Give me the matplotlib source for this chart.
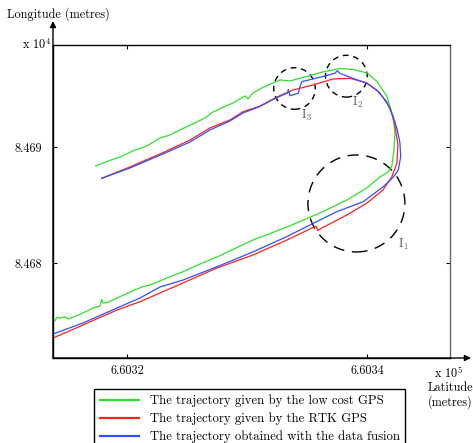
import matplotlib
matplotlib.use('Agg')
import matplotlib.pyplot as plt
from matplotlib.patches import Ellipse, FancyArrowPatch
import numpy as np

plt.rcParams['font.family'] = ['cmr10', 'DejaVu Serif']
plt.rcParams['mathtext.fontset'] = 'cm'
plt.rcParams['axes.unicode_minus'] = False
plt.rcParams['axes.formatter.use_mathtext'] = True

W, H = 473, 443
LAT0, LON0 = 660300.0, 84670.0   # local origin (metres)

# ---- data: metres east / north of (LAT0, LON0) ----
green_e = [17.39, 18.42, 19.42, 20.50, 21.67, 22.75, 23.58, 24.42, 25.83, 26.50, 27.17, 28.83,
           29.83, 30.08, 30.50, 31.25, 32.17, 32.75, 33.58, 35.00, 36.33, 37.75, 38.83, 40.00,
           40.83, 41.67, 42.17, 42.33, 42.25, 42.08, 41.75, 41.08, 40.00, 38.33, 36.08, 33.33,
           30.50, 27.50, 26.08, 24.67, 23.33, 21.92, 21.33, 20.25, 19.17, 18.33, 18.00, 17.89,
           17.75, 17.17, 16.33, 15.50, 15.08, 14.83, 14.42, 14.17, 14.00]
green_n = [18.36, 18.79, 19.14, 19.66, 20.09, 20.78, 21.03, 21.47, 22.16, 22.50, 23.02, 23.79,
           24.40, 24.14, 24.66, 25.09, 25.52, 25.78, 25.69, 26.08, 26.47, 26.77, 26.68, 26.38,
           25.65, 24.35, 22.63, 21.21, 19.74, 18.36, 17.84, 17.41, 16.47, 15.43, 14.31, 13.10,
           11.98, 10.52, 9.91, 9.25, 8.71, 8.10, 7.96, 7.50, 6.98, 6.58, 6.55, 6.87,
           6.29, 6.12, 5.69, 5.32, 5.17, 5.37, 5.23, 5.32, 5.03]

red_e = [17.89, 20.25, 23.00, 25.25, 26.92, 28.58, 29.67, 31.08, 32.50, 33.83, 35.50, 37.17,
         38.58, 40.00, 41.08, 41.92, 42.33, 42.58, 42.50, 42.08, 41.33, 40.00, 38.33, 36.25,
         35.88, 35.79, 35.50, 33.33, 30.50, 27.50, 24.67, 21.08, 19.17, 16.33, 13.75]
red_n = [17.30, 18.28, 19.51, 20.60, 21.64, 22.33, 23.04, 23.53, 24.31, 24.91, 25.34, 25.86,
         25.92, 25.52, 24.66, 23.36, 21.90, 20.17, 18.62, 17.44, 16.29, 15.17, 14.14, 13.02,
         12.80, 13.15, 13.06, 11.98, 10.69, 9.57, 8.28, 6.66, 5.95, 4.66, 3.49]

blue_e = [17.89, 20.25, 23.00, 25.25, 26.92, 28.58, 29.67, 31.08, 32.33, 33.38, 33.44, 33.58,
          34.28, 34.42, 34.56, 35.39, 36.50, 37.33, 37.53, 37.75, 38.83, 39.97, 40.81, 41.64,
          42.19, 42.53, 42.75, 42.81, 42.61, 42.21, 41.36, 39.69, 37.48, 35.53, 33.31, 30.53,
          27.50, 24.67, 22.75, 21.08, 19.17, 16.33, 13.75]
blue_n = [17.30, 18.19, 19.40, 20.43, 21.47, 22.24, 22.93, 23.49, 24.18, 24.66, 24.96, 24.42,
          24.63, 25.20, 25.63, 25.84, 26.12, 26.35, 26.58, 26.35, 25.92, 25.49, 24.91, 23.91,
          22.61, 21.47, 20.32, 19.16, 18.02, 17.41, 16.58, 15.28, 14.42, 13.42, 12.27, 10.97,
          9.68, 8.53, 7.93, 6.98, 6.12, 4.83, 3.84]

series_labels = ['The trajectory given by the low cost GPS',
                 'The trajectory given by the RTK GPS',
                 'The trajectory obtained with the data fusion']
series_colors = ['#2ee02e', '#ff2020', '#3050ff']

# zones of interest (dashed circles)
zone_names = ['I$_1$', 'I$_2$', 'I$_3$']
zone_e = [39.12, 38.28, 33.96]
zone_n = [15.13, 26.10, 25.04]
zone_rx = [4.04, 1.74, 1.73]
zone_ry = [4.18, 1.80, 1.79]
zone_label_e = [43.00, 39.25, 34.92]
zone_label_n = [11.64, 23.86, 22.76]
zone_dash = [(0, (8.0, 5.5)), (0, (4.2, 3.4)), (0, (4.2, 3.4))]

xticks = [660320, 660340]
xticklabels = ['6.6032', '6.6034']
yticks = [84680, 84690]
yticklabels = ['8.468', '8.469']

# ---- figure ----
fig = plt.figure(figsize=(W / 100, H / 100), dpi=100)
fx = lambda px: px / W
fy = lambda py: 1 - py / H

ax = fig.add_axes([fx(53), fy(358), fx(450) - fx(53), fy(45) - fy(358)])

handles = []
for e, n, lab, col in zip([green_e, red_e, blue_e], [green_n, red_n, blue_n],
                          series_labels, series_colors):
    h, = ax.plot(LAT0 + np.array(e), LON0 + np.array(n), color=col, lw=0.9, label=lab)
    handles.append(h)

for i in range(3):
    ax.add_patch(Ellipse((LAT0 + zone_e[i], LON0 + zone_n[i]), 2 * zone_rx[i], 2 * zone_ry[i],
                         fill=False, edgecolor='black', lw=1.0, linestyle=zone_dash[i]))
    ax.text(LAT0 + zone_label_e[i], LON0 + zone_label_n[i], zone_names[i], color='#555555',
            fontsize=9, ha='center', va='center')

ax.set_xlim(LAT0 + 13.83, LAT0 + 46.92)
ax.set_ylim(LON0 + 1.81, LON0 + 28.79)
ax.set_xticks(xticks)
ax.set_xticklabels(xticklabels)
ax.set_yticks(yticks)
ax.set_yticklabels(yticklabels)
ax.tick_params(direction='in', length=3, width=0.8, labelsize=8.8,
               top=True, right=True)
ax.tick_params(axis='y', pad=8)
ax.tick_params(axis='x', pad=5)
for s in ['left', 'bottom', 'top']:
    ax.spines[s].set_linewidth(1.0)
    ax.spines[s].set_color('black')
ax.spines['right'].set_linewidth(1.0)
ax.spines['right'].set_color('#666666')

# axis arrows
arrow = dict(arrowstyle='-|>', mutation_scale=9, lw=1.0, color='black', shrinkA=0, shrinkB=0)
fig.add_artist(FancyArrowPatch((fx(53), fy(358)), (fx(53), fy(21)),
               transform=fig.transFigure, **arrow))
fig.add_artist(FancyArrowPatch((fx(53), fy(358)), (fx(471), fy(358)),
               transform=fig.transFigure, **arrow))

# texts
fig.text(fx(7), fy(14), 'Longitude (metres)', fontsize=8.8, ha='left', va='center')
fig.text(fx(51), fy(45), r'x 10$^{4}$', fontsize=8.8, ha='right', va='center')
fig.text(fx(434), fy(373), r'x 10$^{5}$', fontsize=8.8, ha='left', va='center')
fig.text(fx(427.5), fy(388), 'Latitude', fontsize=8.8, ha='left', va='center')
fig.text(fx(427.5), fy(402), '(metres)', fontsize=8.8, ha='left', va='center')

leg = fig.legend(handles=handles, labels=series_labels, loc='upper left',
                 bbox_to_anchor=(fx(94), fy(389)), fontsize=9.2, frameon=True,
                 fancybox=False, edgecolor='black', framealpha=1,
                 handlelength=3.1, handletextpad=0.8, labelspacing=0.42,
                 borderpad=0.45, borderaxespad=0)
leg.get_frame().set_linewidth(1.0)
for lh in leg.get_lines():
    lh.set_linewidth(1.6)

fig.savefig('out.png', dpi=100)
